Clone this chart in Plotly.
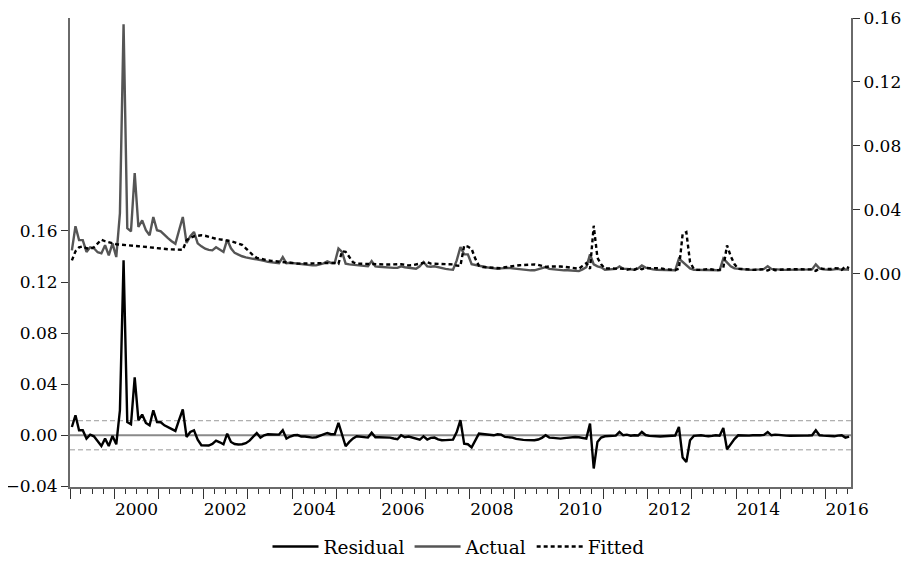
import pandas as pd
import plotly.graph_objects as go

# ---------------- data (monthly, 1999M01 - 2016M07) ----------------
START = "1999-01"
END = "2016-07"

actual = [
    0.0146, 0.0297, 0.0210, 0.0210, 0.0136, 0.0165, 0.0159, 0.0134, 0.0127, 0.0178, 0.0115, 0.0190,
    0.0104, 0.0378, 0.1560, 0.0284, 0.0265, 0.0630, 0.0292, 0.0334, 0.0272, 0.0240, 0.0355, 0.0272,
    0.0265, 0.0240, 0.0222, 0.0203, 0.0187, 0.0272, 0.0355, 0.0192, 0.0234, 0.0261, 0.0190, 0.0171,
    0.0156, 0.0149, 0.0146, 0.0165, 0.0152, 0.0136, 0.0213, 0.0159, 0.0130, 0.0118, 0.0109, 0.0102,
    0.0096, 0.0093, 0.0090, 0.0087, 0.0080, 0.0074, 0.0071, 0.0065, 0.0065, 0.0104, 0.0065, 0.0068,
    0.0065, 0.0061, 0.0058, 0.0055, 0.0052, 0.0052, 0.0052, 0.0058, 0.0065, 0.0077, 0.0067, 0.0067,
    0.0157, 0.0136, 0.0063, 0.0058, 0.0055, 0.0052, 0.0049, 0.0046, 0.0046, 0.0079, 0.0046, 0.0043,
    0.0040, 0.0038, 0.0036, 0.0036, 0.0036, 0.0046, 0.0040, 0.0036, 0.0033, 0.0031, 0.0046, 0.0073,
    0.0046, 0.0043, 0.0046, 0.0040, 0.0033, 0.0030, 0.0027, 0.0025, 0.0083, 0.0167, 0.0121, 0.0121,
    0.0060, 0.0055, 0.0046, 0.0043, 0.0040, 0.0036, 0.0033, 0.0031, 0.0033, 0.0036, 0.0036, 0.0033,
    0.0030, 0.0027, 0.0024, 0.0021, 0.0021, 0.0021, 0.0027, 0.0033, 0.0041, 0.0030, 0.0027, 0.0024,
    0.0021, 0.0021, 0.0021, 0.0018, 0.0018, 0.0016, 0.0027, 0.0040, 0.0121, 0.0058, 0.0046, 0.0040,
    0.0025, 0.0027, 0.0027, 0.0030, 0.0046, 0.0031, 0.0030, 0.0027, 0.0025, 0.0033, 0.0052, 0.0038,
    0.0030, 0.0027, 0.0025, 0.0024, 0.0021, 0.0021, 0.0021, 0.0021, 0.0094, 0.0073, 0.0052, 0.0033,
    0.0025, 0.0024, 0.0024, 0.0021, 0.0021, 0.0021, 0.0021, 0.0021, 0.0094, 0.0067, 0.0046, 0.0033,
    0.0030, 0.0027, 0.0027, 0.0024, 0.0024, 0.0024, 0.0027, 0.0030, 0.0046, 0.0030, 0.0027, 0.0025,
    0.0024, 0.0024, 0.0024, 0.0024, 0.0024, 0.0024, 0.0024, 0.0024, 0.0027, 0.0058, 0.0033, 0.0027,
    0.0025, 0.0024, 0.0027, 0.0030, 0.0024, 0.0027, 0.0025,
]

fitted = [
    0.0083, 0.0140, 0.0165, 0.0171, 0.0159, 0.0156, 0.0165, 0.0190, 0.0213, 0.0203, 0.0196, 0.0190,
    0.0184, 0.0182, 0.0181, 0.0178, 0.0176, 0.0174, 0.0172, 0.0169, 0.0167, 0.0164, 0.0162, 0.0159,
    0.0157, 0.0155, 0.0153, 0.0152, 0.0150, 0.0149, 0.0149, 0.0209, 0.0225, 0.0234, 0.0237, 0.0240,
    0.0237, 0.0231, 0.0221, 0.0218, 0.0215, 0.0212, 0.0209, 0.0203, 0.0196, 0.0190, 0.0181, 0.0159,
    0.0134, 0.0115, 0.0099, 0.0093, 0.0087, 0.0083, 0.0080, 0.0077, 0.0074, 0.0073, 0.0071, 0.0068,
    0.0065, 0.0063, 0.0063, 0.0063, 0.0063, 0.0063, 0.0063, 0.0063, 0.0063, 0.0065, 0.0065, 0.0067,
    0.0062, 0.0140, 0.0137, 0.0102, 0.0071, 0.0063, 0.0062, 0.0062, 0.0062, 0.0060, 0.0060, 0.0059,
    0.0058, 0.0058, 0.0057, 0.0058, 0.0060, 0.0060, 0.0056, 0.0052, 0.0053, 0.0058, 0.0062, 0.0065,
    0.0072, 0.0063, 0.0062, 0.0062, 0.0062, 0.0061, 0.0060, 0.0058, 0.0050, 0.0049, 0.0175, 0.0170,
    0.0155, 0.0094, 0.0050, 0.0042, 0.0040, 0.0038, 0.0036, 0.0034, 0.0034, 0.0040, 0.0042, 0.0045,
    0.0050, 0.0053, 0.0055, 0.0057, 0.0058, 0.0058, 0.0055, 0.0050, 0.0042, 0.0045, 0.0046, 0.0046,
    0.0045, 0.0043, 0.0040, 0.0035, 0.0032, 0.0031, 0.0049, 0.0066, 0.0030, 0.0300, 0.0099, 0.0058,
    0.0033, 0.0033, 0.0032, 0.0033, 0.0030, 0.0031, 0.0025, 0.0030, 0.0025, 0.0035, 0.0028, 0.0036,
    0.0035, 0.0035, 0.0035, 0.0034, 0.0029, 0.0027, 0.0026, 0.0023, 0.0030, 0.0248, 0.0260, 0.0072,
    0.0030, 0.0024, 0.0024, 0.0026, 0.0029, 0.0026, 0.0021, 0.0024, 0.0037, 0.0177, 0.0110, 0.0060,
    0.0030, 0.0029, 0.0029, 0.0027, 0.0024, 0.0026, 0.0027, 0.0027, 0.0020, 0.0030, 0.0022, 0.0022,
    0.0026, 0.0027, 0.0028, 0.0029, 0.0030, 0.0028, 0.0027, 0.0026, 0.0027, 0.0018, 0.0033, 0.0030,
    0.0030, 0.0029, 0.0035, 0.0033, 0.0024, 0.0045, 0.0035,
]

residual = [
    0.0065, 0.0157, 0.0039, 0.0039, -0.0026, 0.0005, -0.0008, -0.0050, -0.0084, -0.0026, -0.0084, -0.0005,
    -0.0071, 0.0196, 0.1370, 0.0104, 0.0086, 0.0453, 0.0118, 0.0162, 0.0097, 0.0078, 0.0196, 0.0104,
    0.0102, 0.0078, 0.0065, 0.0050, 0.0034, 0.0120, 0.0202, -0.0013, 0.0026, 0.0039, -0.0034, -0.0078,
    -0.0082, -0.0080, -0.0068, -0.0042, -0.0055, -0.0071, 0.0013, -0.0052, -0.0068, -0.0072, -0.0070, -0.0062,
    -0.0042, -0.0015, 0.0018, -0.0018, 0.0000, 0.0008, 0.0006, 0.0006, 0.0005, 0.0039, -0.0026, -0.0010,
    0.0000, 0.0002, -0.0010, -0.0010, -0.0013, -0.0018, -0.0015, -0.0005, 0.0010, 0.0018, 0.0008, 0.0008,
    0.0097, -0.0004, -0.0086, -0.0052, -0.0025, -0.0008, -0.0012, -0.0015, -0.0018, 0.0020, -0.0015, -0.0015,
    -0.0015, -0.0016, -0.0018, -0.0025, -0.0031, 0.0000, -0.0015, -0.0010, -0.0018, -0.0031, -0.0035, -0.0008,
    -0.0033, -0.0020, -0.0018, -0.0032, -0.0039, -0.0038, -0.0035, -0.0034, 0.0025, 0.0118, -0.0065, -0.0070,
    -0.0095, -0.0040, 0.0013, 0.0010, 0.0008, 0.0005, 0.0000, 0.0008, 0.0005, -0.0013, -0.0015, -0.0018,
    -0.0028, -0.0034, -0.0036, -0.0038, -0.0039, -0.0039, -0.0033, -0.0020, 0.0000, -0.0018, -0.0020, -0.0024,
    -0.0026, -0.0022, -0.0018, -0.0015, -0.0013, -0.0015, -0.0022, -0.0026, 0.0092, -0.0260, -0.0052, -0.0018,
    -0.0008, -0.0006, -0.0005, -0.0003, 0.0026, 0.0000, 0.0005, -0.0003, 0.0000, -0.0002, 0.0026, 0.0002,
    -0.0005, -0.0008, -0.0010, -0.0010, -0.0008, -0.0006, -0.0005, -0.0002, 0.0065, -0.0175, -0.0210, -0.0039,
    -0.0005, 0.0000, 0.0000, -0.0005, -0.0008, -0.0005, 0.0000, -0.0003, 0.0057, -0.0110, -0.0065, -0.0030,
    0.0000, -0.0002, -0.0002, -0.0003, 0.0000, -0.0002, 0.0000, 0.0003, 0.0026, 0.0000, 0.0005, 0.0003,
    -0.0002, -0.0003, -0.0004, -0.0005, -0.0006, -0.0004, -0.0003, -0.0002, 0.0000, 0.0040, 0.0000, -0.0003,
    -0.0005, -0.0005, -0.0008, -0.0003, 0.0000, -0.0018, -0.0010,
]

RESID_SD = 0.0114  # +/- 1 S.E. band on residual axis

left_ticks = [-0.04, 0.00, 0.04, 0.08, 0.12, 0.16]
left_labels = ["\u22120.04", "0.00", "0.04", "0.08", "0.12", "0.16"]
right_ticks = [0.00, 0.04, 0.08, 0.12, 0.16]
right_labels = ["0.00", "0.04", "0.08", "0.12", "0.16"]
year_labels = ["2000", "2002", "2004", "2006", "2008", "2010", "2012", "2014", "2016"]

# ---------------- build ----------------
periods = pd.period_range(START, END, freq="M")
x = [p.start_time + (p.end_time - p.start_time) / 2 for p in periods]
x_start = periods[0].start_time
x_end = periods[-1].end_time

year_starts = [pd.Timestamp(f"{y}-01-01") for y in range(1999, 2017)]
label_pos = [pd.Timestamp(f"{y}-07-01") for y in year_labels]

FONT = "DejaVu Serif"
AX = "#6a6a6a"
FS = 17
LFS = 18.5

# page body has an 8px default margin -> figure is sized to fill the rest of the window
W, H = 901, 574

fig = go.Figure()
fig.add_trace(go.Scatter(x=x, y=residual, name="Residual", mode="lines",
                         line=dict(color="black", width=2.4), yaxis="y", xaxis="x"))
fig.add_trace(go.Scatter(x=x, y=actual, name="Actual", mode="lines",
                         line=dict(color="#555555", width=2.4), yaxis="y2", xaxis="x"))
fig.add_trace(go.Scatter(x=x, y=fitted, name="Fitted", mode="lines",
                         line=dict(color="black", width=2.4, dash="4px,3px"), yaxis="y2", xaxis="x"))
# carrier for the label axis
fig.add_trace(go.Scatter(x=[], y=[], xaxis="x2", yaxis="y", showlegend=False, hoverinfo="skip"))

# zero line and +/- SE band on residual axis
fig.add_shape(type="line", xref="x domain", yref="y", x0=0, x1=1, y0=0, y1=0,
              line=dict(color="#8a8a8a", width=2), layer="below")
for s in (RESID_SD, -RESID_SD):
    fig.add_shape(type="line", xref="x domain", yref="y", x0=0, x1=1, y0=s, y1=s,
                  line=dict(color="#9a9a9a", width=1, dash="5px,3px"), layer="below")

fig.update_layout(
    width=W, height=H,
    margin=dict(l=62, r=58, t=10, b=95, autoexpand=False),
    paper_bgcolor="white", plot_bgcolor="white",
    font=dict(family=FONT, size=FS, color="black"),
    showlegend=True,
    legend=dict(orientation="h", x=0.5, xanchor="center", xref="container",
                y=1 - 539 / H, yanchor="middle", yref="container",
                font=dict(family=FONT, size=LFS), bgcolor="rgba(0,0,0,0)",
                itemwidth=46, tracegroupgap=0),
    xaxis=dict(type="date", range=[x_start, x_end], anchor="y", showgrid=False, zeroline=False,
               automargin=False,
               showline=True, linecolor=AX, linewidth=1.5,
               tickmode="array", tickvals=year_starts, showticklabels=False,
               ticks="outside", ticklen=10, tickwidth=1.3, tickcolor="#333333",
               minor=dict(tickmode="linear", tick0="1999-01-01", dtick="M3", ticks="outside",
                          ticklen=5, tickwidth=1.2, tickcolor="#333333", showgrid=False)),
    xaxis2=dict(type="date", range=[x_start, x_end], overlaying="x", anchor="y", side="bottom",
                showgrid=False, zeroline=False, showline=False, automargin=False,
                tickmode="array", tickvals=label_pos, ticktext=year_labels,
                ticks="outside", ticklen=7, tickcolor="rgba(0,0,0,0)",
                tickfont=dict(family=FONT, size=FS, color="black")),
    yaxis=dict(range=[-0.0405, 0.3268], side="left", anchor="x", showgrid=False, zeroline=False,
               automargin=False, ticklabeloverflow="allow",
               showline=True, linecolor=AX, linewidth=2,
               tickmode="array", tickvals=left_ticks, ticktext=left_labels,
               ticks="outside", ticklen=7, tickwidth=1.2, tickcolor="#333333",
               tickfont=dict(family=FONT, size=FS, color="black")),
    yaxis2=dict(range=[-0.1335, 0.16], side="right", overlaying="y", anchor="x", showgrid=False,
                zeroline=False, showline=True, linecolor=AX, linewidth=2, automargin=False,
                ticklabeloverflow="allow",
                tickmode="array", tickvals=right_ticks, ticktext=right_labels,
                ticks="outside", ticklen=7, tickwidth=1.2, tickcolor="#333333",
                tickfont=dict(family=FONT, size=FS, color="black")),
)

fig.write_html("out.html")
